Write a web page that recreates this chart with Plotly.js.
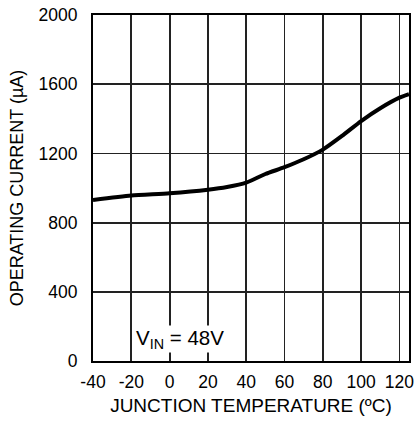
<!DOCTYPE html>
<html>
<head>
<meta charset="utf-8">
<script src="https://cdn.plot.ly/plotly-3.0.1.min.js"></script>
<style>html,body{margin:0;padding:0;background:#fff;}#chart{width:417px;height:424px;}</style>
</head>
<body>
<div id="chart"></div>
<script>
const temperature = [-40, -20, 0, 20, 30, 40, 50, 60, 70, 80, 90, 100, 110, 120, 125];
const operatingCurrent = [930, 956, 969, 990, 1006, 1031, 1081, 1120, 1166, 1222, 1301, 1387, 1461, 1522, 1542];
const xTicks = [-40, -20, 0, 20, 40, 60, 80, 100, 120];
const yTicks = [0, 400, 800, 1200, 1600, 2000];
const conditionLabel = 'V<sub>IN</sub> = 48V';

const fam = 'Liberation Sans, Arial, sans-serif';
const tickFont = {family: fam, size: 17.5, color: '#000'};

Plotly.newPlot('chart', [{
  x: temperature,
  y: operatingCurrent,
  type: 'scatter',
  mode: 'lines',
  line: {color: '#000', width: 4, shape: 'spline', smoothing: 0.6},
  hoverinfo: 'skip'
}], {
  width: 417, height: 424,
  margin: {l: 93, r: 8, t: 15, b: 63},
  paper_bgcolor: '#fff', plot_bgcolor: '#fff',
  font: tickFont,
  showlegend: false,
  xaxis: {
    range: [-40, 125], tickvals: xTicks, ticktext: xTicks.map(String),
    showgrid: true, gridcolor: '#222', gridwidth: 1.8,
    zeroline: false, showline: true, linecolor: '#000', linewidth: 2, mirror: true,
    ticks: '', ticklabelstandoff: 4, tickfont: tickFont,
    title: {text: 'JUNCTION TEMPERATURE (ºC)', font: {family: fam, size: 19, color: '#000'}, standoff: 8}
  },
  yaxis: {
    range: [0, 2000], tickvals: yTicks, ticktext: yTicks.map(String),
    showgrid: true, gridcolor: '#222', gridwidth: 1.8,
    zeroline: false, showline: true, linecolor: '#000', linewidth: 2, mirror: true,
    ticks: '', ticklabelstandoff: 10, tickfont: tickFont,
    title: {text: 'OPERATING CURRENT (µA)', font: {family: fam, size: 18, color: '#000'}, standoff: 10}
  },
  annotations: [{
    x: -18.3, y: 130, xref: 'x', yref: 'y', xanchor: 'left', yanchor: 'middle',
    text: conditionLabel, showarrow: false, font: {family: fam, size: 20.5, color: '#000'},
    bgcolor: '#fff', borderpad: 0
  }]
}, {displayModeBar: false, staticPlot: true});
</script>
</body>
</html>
